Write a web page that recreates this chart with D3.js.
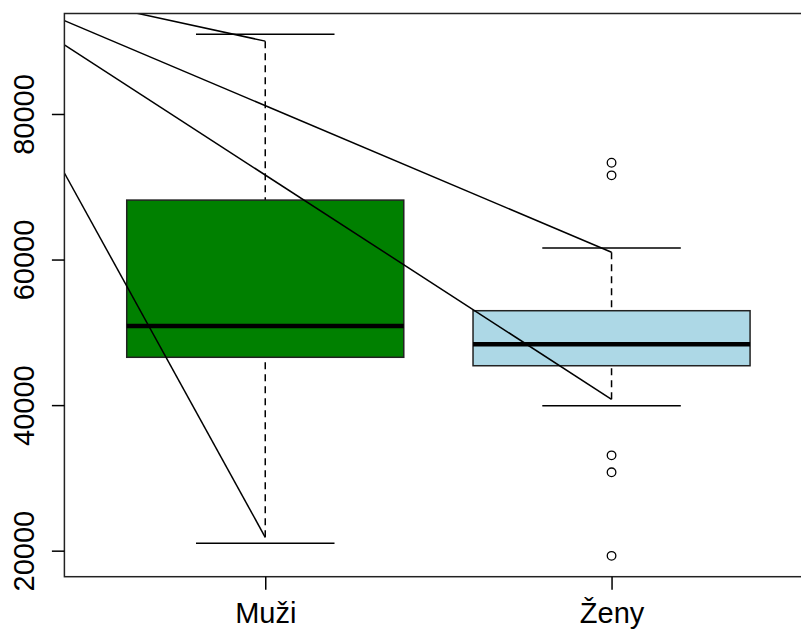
<!DOCTYPE html>
<html>
<head>
<meta charset="utf-8">
<script src="https://cdn.jsdelivr.net/npm/d3@7"></script>
<style>
  html, body { margin: 0; padding: 0; background: #fff; }
  svg { display: block; }
  text { font-family: "Liberation Sans", Arial, Helvetica, sans-serif; fill: #000; }
</style>
</head>
<body>
<svg id="chart" width="801" height="630"></svg>
<script>
// Salary distribution by gender
const groups = ["Muži", "Ženy"];
const fills = ["#008000", "#ADD8E6"];
const q1 = [46570, 45410];
const medians = [50870, 48350];
const q3 = [68170, 52970];
const whiskerLow = [21840, 40800];
const whiskerHigh = [90010, 61000];
const capLow = [21020, 39920];
const capHigh = [90940, 61580];
const outliers = [[], [73300, 71570, 33100, 30770, 19290]];
const yTicks = [20000, 40000, 60000, 80000];

// Reference segments drawn over the boxes (group position, value)
const segFromX = [0.42, 0.42, 0.42, 0.42];
const segFromY = [96010, 92820, 89480, 71890];
const segToX = [1, 2, 2, 1];
const segToY = [90010, 61000, 40800, 21840];

const svg = d3.select("#chart");
const plot = { left: 64.4, right: 812.4, top: 13.5, bottom: 576.7 };

// y range: data extent padded by 4% on each side
const allVals = [].concat(capLow, capHigh, ...outliers);
const lo = d3.min(allVals), hi = d3.max(allVals);
const pad = (hi - lo) * 0.04;
const y = d3.scaleLinear().domain([lo - pad, hi + pad]).range([plot.bottom, plot.top]);
const x = d3.scaleLinear().domain([0.42, 2.58]).range([plot.left, plot.right]);

const boxW = 0.8, capW = 0.4;

svg.append("defs").append("clipPath").attr("id", "clip")
  .append("rect")
  .attr("x", plot.left).attr("y", plot.top)
  .attr("width", plot.right - plot.left).attr("height", plot.bottom - plot.top);

const g = svg.append("g");

groups.forEach((name, i) => {
  const cx = x(i + 1);
  // dashed whiskers, drawn from the whisker end toward the box
  g.append("line")
    .attr("x1", cx).attr("x2", cx)
    .attr("y1", y(whiskerLow[i])).attr("y2", y(q1[i]))
    .attr("stroke", "#000").attr("stroke-width", 1.5).attr("stroke-dasharray", "7,5");
  g.append("line")
    .attr("x1", cx).attr("x2", cx)
    .attr("y1", y(whiskerHigh[i])).attr("y2", y(q3[i]))
    .attr("stroke", "#000").attr("stroke-width", 1.5).attr("stroke-dasharray", "7,5");
  // caps
  [capLow[i], capHigh[i]].forEach(v => {
    g.append("line")
      .attr("x1", x(i + 1 - capW / 2)).attr("x2", x(i + 1 + capW / 2))
      .attr("y1", y(v)).attr("y2", y(v))
      .attr("stroke", "#000").attr("stroke-width", 1.5);
  });
  // box
  g.append("rect")
    .attr("x", x(i + 1 - boxW / 2)).attr("y", y(q3[i]))
    .attr("width", x(i + 1 + boxW / 2) - x(i + 1 - boxW / 2))
    .attr("height", y(q1[i]) - y(q3[i]))
    .attr("fill", fills[i]).attr("stroke", "#222").attr("stroke-width", 1.5);
  // median
  g.append("line")
    .attr("x1", x(i + 1 - boxW / 2)).attr("x2", x(i + 1 + boxW / 2))
    .attr("y1", y(medians[i])).attr("y2", y(medians[i]))
    .attr("stroke", "#000").attr("stroke-width", 4.5);
  // outliers
  g.selectAll(null).data(outliers[i]).enter().append("circle")
    .attr("cx", cx).attr("cy", d => y(d)).attr("r", 4.3)
    .attr("fill", "none").attr("stroke", "#000").attr("stroke-width", 1.3);
});

// segments, clipped to the plotting region
const segs = segFromX.map((fx, k) => ({ x1: fx, y1: segFromY[k], x2: segToX[k], y2: segToY[k] }));
svg.append("g").attr("clip-path", "url(#clip)")
  .selectAll("line").data(segs).enter().append("line")
  .attr("x1", d => x(d.x1)).attr("y1", d => y(d.y1))
  .attr("x2", d => x(d.x2)).attr("y2", d => y(d.y2))
  .attr("stroke", "#000").attr("stroke-width", 1.5);

// frame
svg.append("rect")
  .attr("x", plot.left).attr("y", plot.top)
  .attr("width", plot.right - plot.left).attr("height", plot.bottom - plot.top)
  .attr("fill", "none").attr("stroke", "#222").attr("stroke-width", 1.5);

// y axis
const yAxis = d3.axisLeft(y).tickValues(yTicks).tickSize(12.5).tickFormat(d3.format("d"));
const ya = svg.append("g").attr("transform", `translate(${plot.left},0)`).call(yAxis);
ya.select(".domain").remove();
ya.selectAll(".tick line").attr("stroke", "#000").attr("stroke-width", 1.5);
ya.selectAll(".tick text")
  .attr("x", null).attr("dy", null)
  .attr("transform", `translate(${34 - plot.left},0) rotate(-90)`)
  .attr("text-anchor", "middle")
  .style("font-size", "29px").style("font-family", "'Liberation Sans', Arial, sans-serif").attr("fill", "#000");

// x axis
const xAxis = d3.axisBottom(x).tickValues([1, 2]).tickSize(13).tickFormat(d => groups[d - 1]);
const xa = svg.append("g").attr("transform", `translate(0,${plot.bottom})`).call(xAxis);
xa.select(".domain").remove();
xa.selectAll(".tick line").attr("stroke", "#000").attr("stroke-width", 1.5);
xa.selectAll(".tick text")
  .attr("y", 623 - plot.bottom).attr("dy", null)
  .attr("text-anchor", "middle")
  .style("font-size", "29px").style("font-family", "'Liberation Sans', Arial, sans-serif").attr("fill", "#000");
</script>
</body>
</html>
